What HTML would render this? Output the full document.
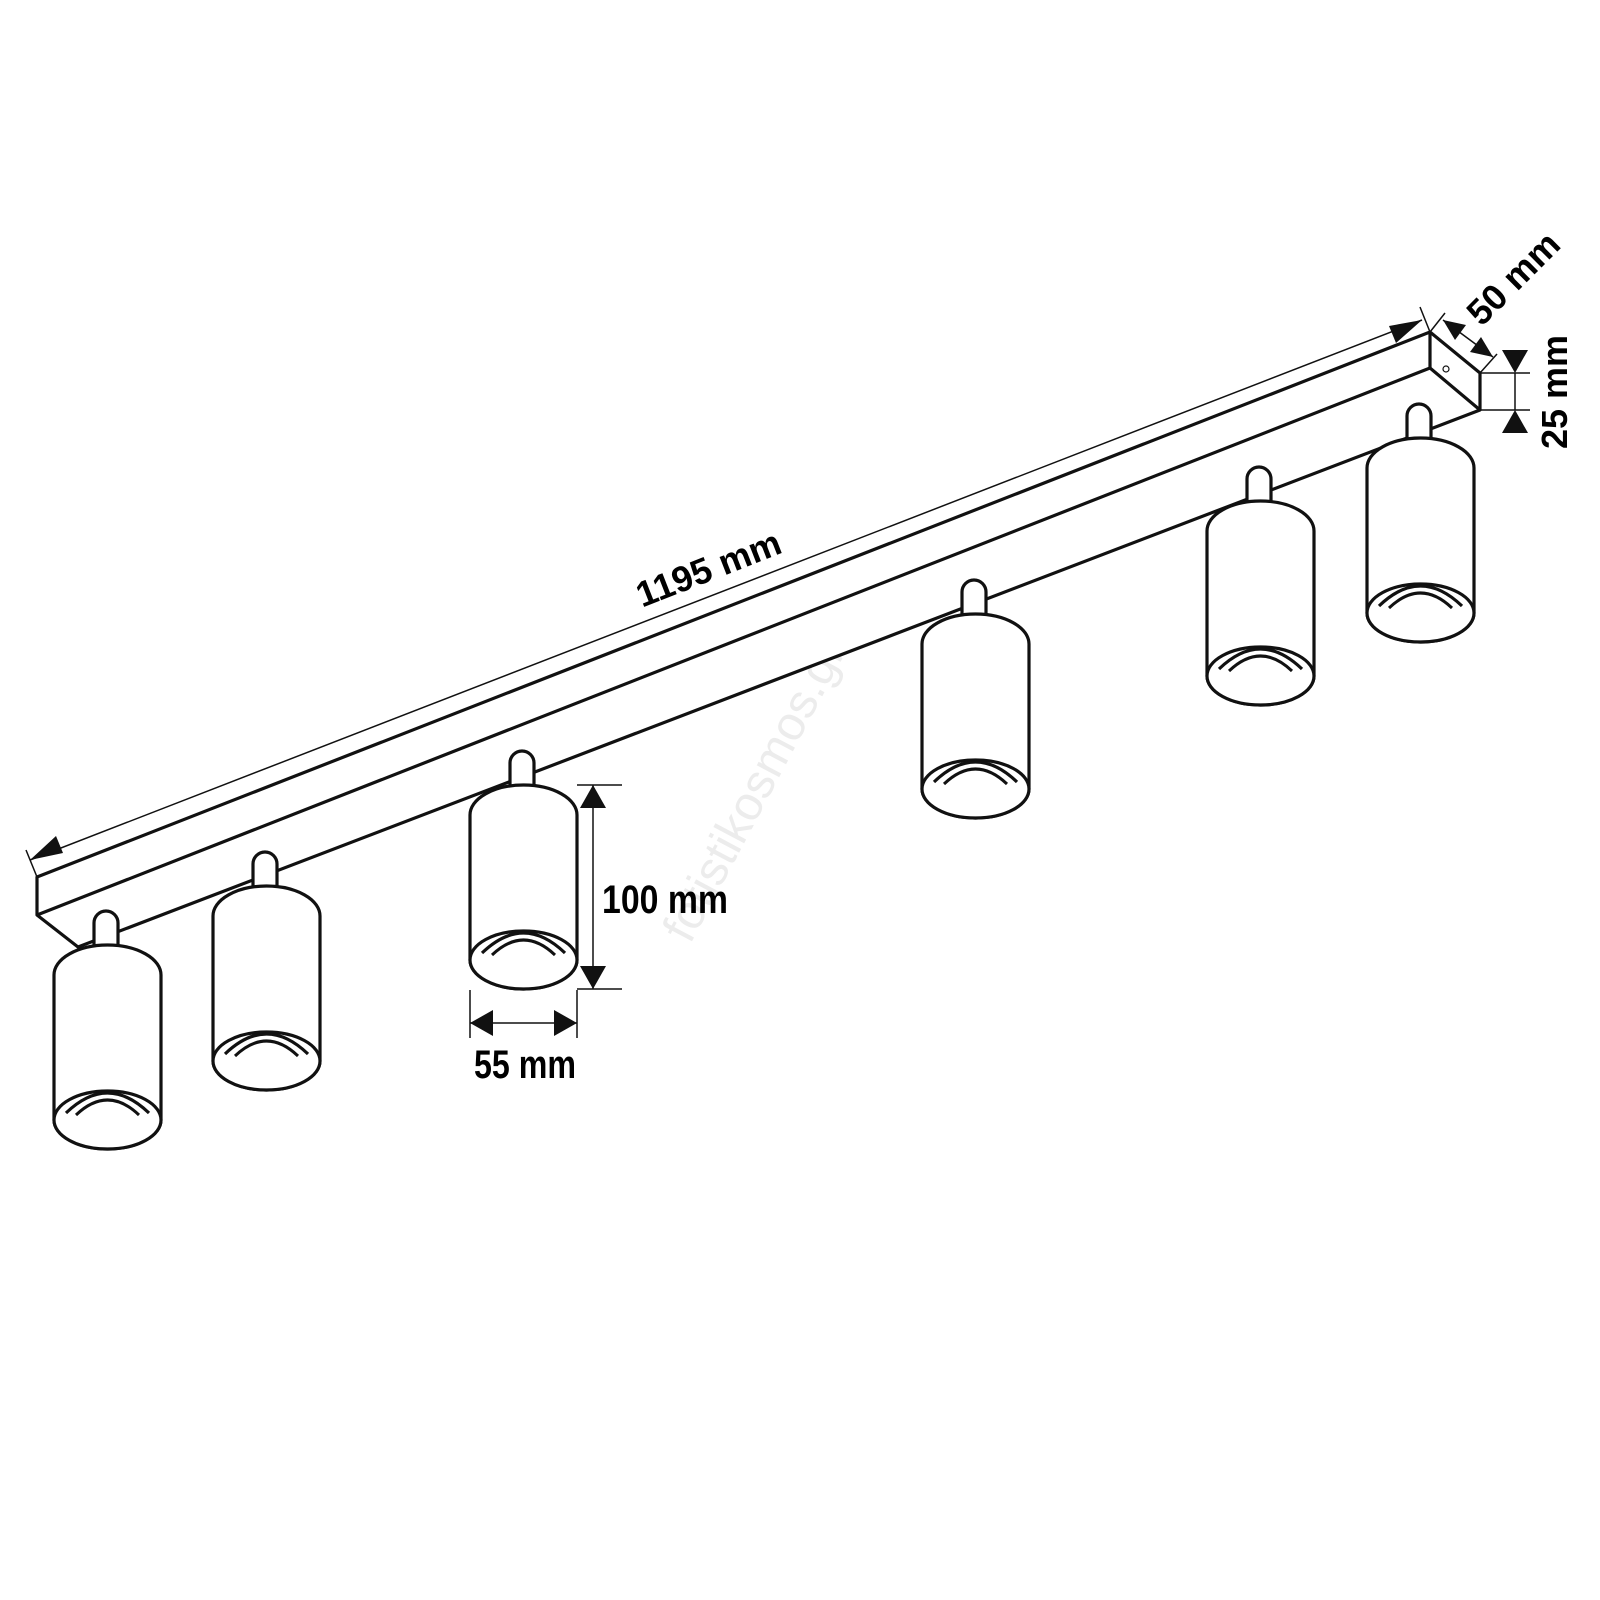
<!DOCTYPE html>
<html><head><style>html,body{margin:0;padding:0;background:#fff}svg{display:block}
text{font-family:"Liberation Sans Narrow","Liberation Sans",sans-serif;font-weight:bold;fill:#000}</style></head>
<body>
<svg width="1600" height="1600" viewBox="0 0 1600 1600" xmlns="http://www.w3.org/2000/svg">
<defs>
<g id="cyl" fill="#fff" stroke="#111" stroke-width="3.2">
  <path d="M40,12 V-22 A12,12 0 0 1 64,-22 V12 Z"/>
  <path d="M0,30 A53.5,30 0 0 1 107,30 V175 A53.5,29 0 0 1 0,175 Z"/>
  <ellipse cx="53.5" cy="175" rx="53.5" ry="29"/>
  <path d="M12,168 Q53.5,128 95,168" fill="none"/>
  <path d="M22,170 Q53.5,140 85,170" fill="none" stroke-width="3"/>
</g>
</defs>
<text x="0" y="0" transform="translate(690,945) rotate(-62)" font-size="48" style="font-family:'Liberation Sans',sans-serif;font-weight:normal;fill:#ececec">fotistikosmos.gr</text>

<g fill="none" stroke="#111" stroke-width="3.2" stroke-linejoin="round">
  <polygon points="37,877 1430,332 1480,373 1480,410 78,947 37,915" fill="#fff"/>
  <line x1="37" y1="915" x2="1430" y2="368"/>
  <line x1="1430" y1="332" x2="1430" y2="368"/>
  <line x1="1430" y1="368" x2="1480" y2="410"/>
</g>
<circle cx="1446" cy="369" r="3" fill="none" stroke="#111" stroke-width="1.2"/>

<g stroke="#111" stroke-width="1.5">
  <line x1="30" y1="860" x2="1422" y2="320"/>
  <line x1="26" y1="850" x2="37" y2="877"/>
  <line x1="1420" y1="307" x2="1430" y2="332"/>
  <line x1="1445" y1="313" x2="1430" y2="332"/>
  <line x1="1497" y1="354" x2="1480" y2="373"/>
  <line x1="1443" y1="320" x2="1493" y2="357"/>
  <line x1="1480" y1="373" x2="1530" y2="373"/>
  <line x1="1480" y1="410" x2="1530" y2="410"/>
  <line x1="1515" y1="373" x2="1515" y2="410"/>
</g>
<g fill="#111">
  <polygon points="30,860 56,836 63,853"/>
  <polygon points="1422,320 1389,326 1396,343"/>
  <polygon points="1443,320 1466,325 1455,340"/>
  <polygon points="1493,357 1470,352 1481,337"/>
  <polygon points="1515,373 1502,350 1528,350"/>
  <polygon points="1515,410 1502,433 1528,433"/>
</g>
<text transform="translate(713,580) rotate(-21.4)" text-anchor="middle" font-size="36">1195 mm</text>
<text transform="translate(1522,287) rotate(-45)" text-anchor="middle" font-size="36">50 mm</text>
<text transform="translate(1567,392) rotate(-90)" text-anchor="middle" font-size="36">25 mm</text>

<use href="#cyl" x="54" y="945"/>
<use href="#cyl" x="213" y="886"/>
<use href="#cyl" x="470" y="785"/>
<use href="#cyl" x="922" y="614"/>
<use href="#cyl" x="1207" y="501"/>
<use href="#cyl" x="1367" y="438"/>

<g stroke="#111" stroke-width="1.5">
  <line x1="577" y1="785" x2="622" y2="785"/>
  <line x1="577" y1="989" x2="622" y2="989"/>
  <line x1="593" y1="785" x2="593" y2="989"/>
  <line x1="470" y1="990" x2="470" y2="1038"/>
  <line x1="577" y1="990" x2="577" y2="1038"/>
  <line x1="470" y1="1023" x2="577" y2="1023"/>
</g>
<g fill="#111">
  <polygon points="593,785 580,808 606,808"/>
  <polygon points="593,989 580,966 606,966"/>
  <polygon points="470,1023 493,1010 493,1036"/>
  <polygon points="577,1023 554,1010 554,1036"/>
</g>
<text x="602" y="913" font-size="40" textLength="126" lengthAdjust="spacingAndGlyphs">100 mm</text>
<text x="474" y="1078" font-size="40" textLength="102" lengthAdjust="spacingAndGlyphs">55 mm</text>
</svg>
</body></html>
